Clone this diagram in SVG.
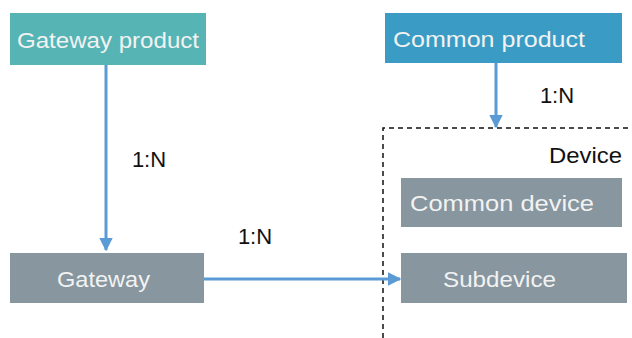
<svg xmlns="http://www.w3.org/2000/svg" width="632" height="338" viewBox="0 0 632 338">
<style>
.lbl{font-family:"Liberation Sans",Arial,sans-serif;font-size:22px;fill:#f2f2f2}
.rel{font-family:"Liberation Sans",Arial,sans-serif;font-size:22px;fill:#111;text-anchor:middle}
.gray{fill:#87969f}
.conn{stroke:#5b9bd5;stroke-width:3;fill:none}
</style>
<defs>
<marker id="ah" viewBox="0 0 10 10" refX="9" refY="5" markerWidth="4.5" markerHeight="4.5" orient="auto" markerUnits="strokeWidth">
<path d="M0,0 L10,5 L0,10 z" fill="#5b9bd5"/>
</marker>
</defs>
<g id="device-container">
<path d="M383,338 V128 H632" fill="none" stroke="#111" stroke-width="1.5" stroke-dasharray="5,4"/>
<text x="622" y="163" font-family="Liberation Sans,Arial,sans-serif" font-size="22" fill="#111" text-anchor="end" textLength="73" lengthAdjust="spacingAndGlyphs">Device</text>
</g>
<g id="gateway-product">
<rect x="10" y="13" width="196" height="52" fill="#56b4b4"/>
<text class="lbl" x="17" y="48" textLength="182" lengthAdjust="spacingAndGlyphs">Gateway product</text>
</g>
<g id="common-product">
<rect x="385" y="13" width="237" height="50" fill="#3a9cc4"/>
<text class="lbl" x="393" y="47" textLength="192" lengthAdjust="spacingAndGlyphs">Common product</text>
</g>
<g id="gateway">
<rect class="gray" x="10" y="253" width="194" height="50"/>
<text class="lbl" x="57" y="287" textLength="93" lengthAdjust="spacingAndGlyphs">Gateway</text>
</g>
<g id="common-device">
<rect class="gray" x="401" y="178" width="221" height="49"/>
<text class="lbl" x="410" y="211" textLength="184" lengthAdjust="spacingAndGlyphs">Common device</text>
</g>
<g id="subdevice">
<rect class="gray" x="401" y="253" width="226" height="50"/>
<text class="lbl" x="443" y="287" textLength="113" lengthAdjust="spacingAndGlyphs">Subdevice</text>
</g>
<g id="connectors">
<line class="conn" x1="106" y1="65" x2="106" y2="250" marker-end="url(#ah)"/>
<line class="conn" x1="496" y1="63" x2="496" y2="127" marker-end="url(#ah)"/>
<line class="conn" x1="204" y1="279" x2="400" y2="279" marker-end="url(#ah)"/>
<text class="rel" x="149" y="167">1:N</text>
<text class="rel" x="255" y="244">1:N</text>
<text class="rel" x="557" y="103">1:N</text>
</g>
</svg>
